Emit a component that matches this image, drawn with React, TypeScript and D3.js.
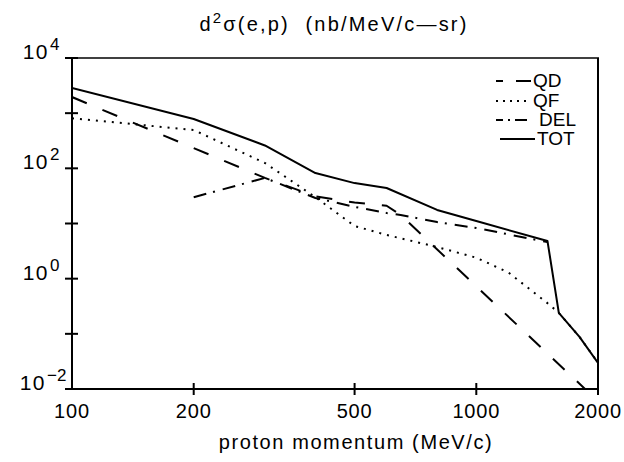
import React from "react";
import * as d3 from "d3";

const QD: [number, number][] = [
  [100, 1960], [300, 67], [400, 31], [500, 24], [600, 21], [650, 14.3], [2000, 0.006],
];
const QF: [number, number][] = [
  [100, 810], [200, 495], [300, 125], [400, 30], [500, 9], [600, 6.2], [800, 3.75],
  [1000, 2.4], [1200, 1.3], [1500, 0.36], [1600, 0.24], [1800, 0.088], [2000, 0.03],
];
const DEL: [number, number][] = [
  [200, 30], [300, 67], [400, 29], [500, 20], [600, 15.5], [650, 14.3], [800, 10.6],
  [1000, 8.3], [1500, 4.6],
];
const TOT: [number, number][] = [
  [100, 2860], [200, 784], [300, 260], [400, 82], [500, 54], [600, 44], [800, 17.6],
  [1000, 11.1], [1500, 4.8], [1600, 0.24], [1800, 0.088], [2000, 0.0296],
];
const xTickLabels = [100, 200, 500, 1000, 2000];
const yMajorExps = [4, 2, 0, -2];
const yAllExps = [4, 3, 2, 1, 0, -1, -2];
const legendItems = ["QD", "QF", "DEL", "TOT"];

const W = 624, H = 462;
const L = 72, R = 598, T = 58, B = 389;
const FONT = "'Liberation Sans', Arial, sans-serif";

export default function App() {
  const x = d3.scaleLog().domain([100, 2000]).range([L, R]);
  const y = d3.scaleLog().domain([1e-2, 1e4]).range([B, T]);
  const line = d3.line<[number, number]>().x(d => x(d[0])).y(d => y(d[1]));
  const styles: Record<string, any> = {
    QD: { dash: "16 17", w: 2 },
    QF: { dash: "2 6", w: 2 },
    DEL: { dash: "13 7 2 8", w: 2 },
    TOT: { dash: undefined, w: 2 },
  };
  const series: [string, [number, number][]][] = [["QD", QD], ["QF", QF], ["DEL", DEL], ["TOT", TOT]];
  const legendDash: Record<string, string | undefined> = {
    QD: "7 13 15 40", QF: "2 5", DEL: "7 5 2 5 12 40", TOT: undefined,
  };
  const legendY = [81, 101, 120, 139];
  const legendTextX = [533, 533, 539, 537];
  const legendX0 = [496, 496, 496, 500];
  const legendX1 = [531, 527, 527, 535];
  return (
    <svg width={W} height={H} style={{ position: "absolute", left: 0, top: 0, background: "#fff" }}
      fontFamily={FONT}>
      <defs>
        <clipPath id="plot"><rect x={L} y={T} width={R - L} height={B - T} /></clipPath>
      </defs>
      <rect x={0} y={0} width={W} height={H} fill="#fff" />
      <text x={334} y={31} textAnchor="middle" fontSize={20} letterSpacing={2.2} style={{ whiteSpace: "pre" }}>
        d<tspan dy={-8} fontSize={15}>2</tspan><tspan dy={8}>σ(e,p)  (nb/MeV/c—sr)</tspan>
      </text>
      {/* frame */}
      <line x1={L - 7} x2={R + 1} y1={T} y2={T} stroke="#000" strokeWidth={1.5} />
      <line x1={L} x2={L} y1={T} y2={B} stroke="#000" strokeWidth={2} />
      <line x1={R} x2={R} y1={T} y2={B + 1} stroke="#000" strokeWidth={2} />
      <line x1={L - 7} x2={R + 1} y1={B} y2={B} stroke="#000" strokeWidth={2} />
      {yAllExps.map(e => (
        <line key={e} x1={L - 7} x2={L + 6} y1={y(Math.pow(10, e))} y2={y(Math.pow(10, e))}
          stroke="#000" strokeWidth={2} />
      ))}
      {[200, 500, 1000, 2000].map(v => (
        <line key={v} x1={x(v)} x2={x(v)} y1={B - 6} y2={B + 6} stroke="#000" strokeWidth={2} />
      ))}
      {yMajorExps.map(e => (
        <g key={e}>
          <text x={e < 0 ? 46 : 49} y={y(Math.pow(10, e)) + 1} textAnchor="end" fontSize={21} letterSpacing={1.5}>10</text>
          <text x={e < 0 ? 47 : 50} y={y(Math.pow(10, e)) - 8} fontSize={17}>{e < 0 ? "−" + (-e) : String(e)}</text>
        </g>
      ))}
      {xTickLabels.map(v => (
        <text key={v} x={x(v)} y={418} textAnchor="middle" fontSize={20} letterSpacing={0.8}>{v}</text>
      ))}
      <text x={356} y={449} textAnchor="middle" fontSize={20} letterSpacing={1.6}>proton momentum (MeV/c)</text>
      <g clipPath="url(#plot)">
        {series.map(([k, d]) => (
          <path key={k} d={line(d) || ""} fill="none" stroke="#000" strokeWidth={styles[k].w}
            strokeDasharray={styles[k].dash} strokeLinejoin="round" />
        ))}
      </g>
      {legendItems.map((k, i) => (
        <g key={k}>
          <line x1={legendX0[i]} x2={legendX1[i]} y1={legendY[i]} y2={legendY[i]} stroke="#000"
            strokeWidth={2} strokeDasharray={legendDash[k]} />
          <text x={legendTextX[i]} y={legendY[i] + 6} fontSize={19}>{k}</text>
        </g>
      ))}
    </svg>
  );
}
